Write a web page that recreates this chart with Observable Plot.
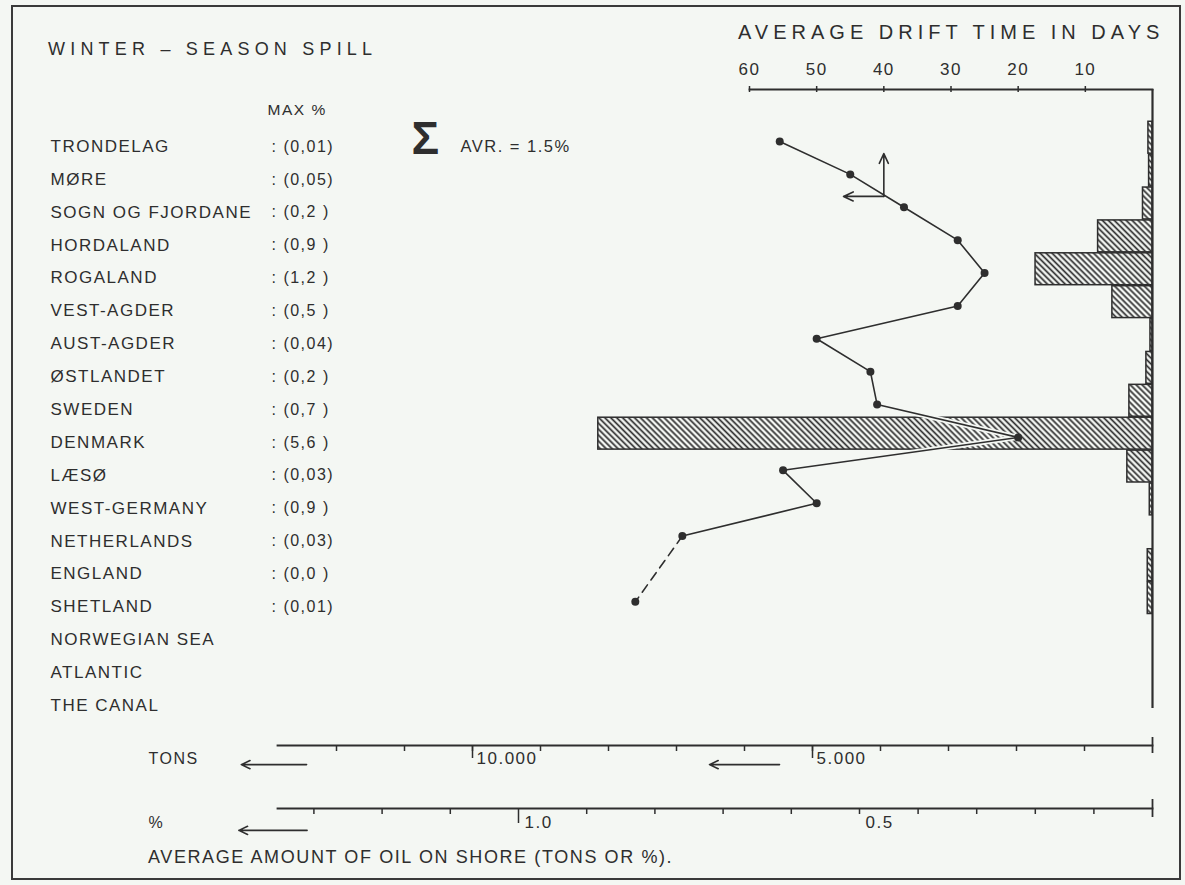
<!DOCTYPE html>
<html>
<head>
<meta charset="utf-8">
<script src="https://cdn.jsdelivr.net/npm/d3@7"></script>
<script src="https://cdn.jsdelivr.net/npm/@observablehq/plot@0.6"></script>
<style>
  html, body { margin: 0; padding: 0; background: #f4f7f3; }
  #chart { position: relative; width: 1185px; height: 885px; background: #f4f7f3;
           font-family: "Liberation Sans", Arial, sans-serif; color: #2e2e2e; overflow: hidden; }
  #chart svg text { letter-spacing: 1.5px; }
  .border { position: absolute; left: 11px; top: 5px; width: 1170px; height: 875px;
            border: 2px solid #3a3a3a; box-sizing: border-box; }
  .ttl { position: absolute; white-space: nowrap; line-height: 1; color: #2e2e2e; }
</style>
</head>
<body>
<div id="chart">
  <div class="border"></div>
  <div class="ttl" style="left:48px;top:40px;font-size:18px;letter-spacing:5.2px">WINTER – SEASON SPILL</div>
  <div class="ttl" style="left:738px;top:22px;font-size:20px;letter-spacing:5px">AVERAGE DRIFT TIME IN DAYS</div>
  <div class="ttl" style="left:148px;top:848px;font-size:18px;letter-spacing:1.6px">AVERAGE AMOUNT OF OIL ON SHORE (TONS OR %).</div>
</div>
<script>
// ---------------- data ----------------
const categories = [
  "TRONDELAG", "MØRE", "SOGN OG FJORDANE", "HORDALAND", "ROGALAND",
  "VEST-AGDER", "AUST-AGDER", "ØSTLANDET", "SWEDEN", "DENMARK",
  "LÆSØ", "WEST-GERMANY", "NETHERLANDS", "ENGLAND", "SHETLAND",
  "NORWEGIAN SEA", "ATLANTIC", "THE CANAL"
];
// maximum % (printed in brackets)
const maxPct = [0.01, 0.05, 0.2, 0.9, 1.2, 0.5, 0.04, 0.2, 0.7, 5.6, 0.03, 0.9, 0.03, 0.0, 0.01, null, null, null];
// average amount of oil on shore, tons (hatched bars)
const avgTons = [60, 50, 140, 800, 1720, 590, 30, 90, 340, 8150, 370, 40, 0, 70, 70, 0, 0, 0];
// average drift time, days (line)
const driftDays = [55.5, 45, 37, 29, 25, 29, 50, 42, 41, 20, 55, 50, 70, null, 77, null, null, null];
const dashedFrom = "NETHERLANDS";

const driftTicks = [60, 50, 40, 30, 20, 10];
const tonsTicks = [1000, 2000, 3000, 4000, 5000, 6000, 7000, 8000, 9000, 10000, 11000, 12000];
const tonsMajor = [5000, 10000];
const pctTicks = [0.1, 0.2, 0.3, 0.4, 0.5, 0.6, 0.7, 0.8, 0.9, 1.1, 1.2, 1.3];
const pctMajor = [1.0];
const pctLabels = [1.0, 0.5];
// spread indicator arrows near MØRE (days, row index)
const spreadArrows = [
  {x1: 40, y1: 1.67, x2: 40, y2: 0.37},
  {x1: 40, y1: 1.67, x2: 46, y2: 1.67}
];
// direction arrows on the bottom scales
const tonsArrows = [{x1: 12440, x2: 13400}, {x1: 5485, x2: 6515}];
const pctArrows = [{x1: 1.31, x2: 1.41}];

// ---------------- setup ----------------
const INK = "#2e2e2e";
const BG = "#f4f7f3";
const rows = categories.map((name, i) => ({name, row: i, max: maxPct[i], tons: avgTons[i], days: driftDays[i]}));
const cut = categories.indexOf(dashedFrom);
const solid = rows.filter(d => d.days != null && d.row <= cut);
const dashed = rows.filter(d => d.days != null && d.row >= cut);
const points = rows.filter(d => d.days != null);

const tonsFmt = d3.formatLocale({decimal: ",", thousands: ".", grouping: [3], currency: ["", ""]}).format(",");
const maxFmt = v => ": (" + ((v > 0 && v < 0.1) ? v.toFixed(2) : v.toFixed(1) + "\u00a0").replace(".", ",") + ")";

const chart = document.getElementById("chart");

// hatch pattern
const defsSvg = d3.select(chart).append("svg").attr("width", 0).attr("height", 0)
  .style("position", "absolute").style("left", 0).style("top", 0);
const pat = defsSvg.append("defs").append("pattern")
  .attr("id", "hatch").attr("patternUnits", "userSpaceOnUse")
  .attr("width", 4.2).attr("height", 4.2).attr("patternTransform", "rotate(-45)");
pat.append("rect").attr("width", 4.2).attr("height", 4.2).attr("fill", BG);
pat.append("line").attr("x1", 2.1).attr("y1", -1).attr("x2", 2.1).attr("y2", 5.2)
  .attr("stroke", INK).attr("stroke-width", 1.7);

const common = {
  width: 1185, height: 885,
  style: {position: "absolute", left: "0px", top: "0px", background: "transparent",
          fontFamily: '"Liberation Sans", Arial, sans-serif', color: INK, overflow: "visible"}
};
const yRow = {domain: [0, 17], range: [141, 700], axis: null};

// ---------- layer: bars, labels, tons scale ----------
const layerBars = Plot.plot({
  ...common,
  marginLeft: 277, marginRight: 33, marginTop: 0, marginBottom: 140,
  x: {domain: [0, 10000], range: [1152, 472]},
  y: yRow,
  marks: [
    Plot.rect(rows.filter(d => d.tons > 0), {
      x1: 0, x2: "tons", y1: d => d.row - 0.6, y2: d => d.row + 0.37,
      fill: "url(#hatch)", stroke: INK, strokeWidth: 1.5
    }),
    Plot.text(rows, {frameAnchor: "left", y: "row", text: "name", dx: -227, dy: 5,
                     textAnchor: "start", fontSize: 17}),
    Plot.text(rows.filter(d => d.max != null), {frameAnchor: "left", y: "row", text: d => maxFmt(d.max),
                     dx: -6, dy: 5, textAnchor: "start", fontSize: 16}),
    Plot.text(["MAX %"], {frameAnchor: "top-left", dx: -10, dy: 103, textAnchor: "start", fontSize: 15.5}),
    Plot.text(["Σ"], {frameAnchor: "left", y: 0, dx: 134, dy: -2, textAnchor: "start",
                      fontSize: 46, fontWeight: "bold"}),
    Plot.text(["AVR. = 1.5%"], {frameAnchor: "left", y: 0, dx: 183, dy: 5, textAnchor: "start", fontSize: 16.5}),
    // tons scale
    Plot.frame({anchor: "bottom", strokeWidth: 1.8}),
    Plot.axisX({anchor: "bottom", ticks: tonsTicks, tickSize: 6, tickFormat: () => "", label: null, strokeWidth: 1.5}),
    Plot.axisX({anchor: "bottom", ticks: tonsMajor, tickSize: 13, tickFormat: () => "", label: null, strokeWidth: 1.5}),
    Plot.axisX({anchor: "bottom", ticks: [0], tickSize: 16, dy: -8, tickFormat: () => "", label: null, strokeWidth: 1.8}),
    Plot.text(tonsMajor, {x: d => d, frameAnchor: "bottom", text: d => tonsFmt(d), dx: 4, dy: 18,
                          textAnchor: "start", fontSize: 17}),
    Plot.text(["TONS"], {frameAnchor: "bottom-left", dx: -129, dy: 18, textAnchor: "start", fontSize: 16}),
    Plot.arrow(tonsArrows, {x1: "x1", x2: "x2", y1: 18.95, y2: 18.95, stroke: INK, strokeWidth: 1.6,
                            headLength: 9, headAngle: 50})
  ]
});

// ---------- layer: percent scale ----------
const layerPct = Plot.plot({
  ...common,
  marginLeft: 277, marginRight: 33, marginTop: 0, marginBottom: 77,
  x: {type: "linear", domain: [0, 0.5, 1.0], range: [1152, 859, 518]},
  y: yRow,
  marks: [
    Plot.frame({anchor: "bottom", strokeWidth: 1.8}),
    Plot.axisX({anchor: "bottom", ticks: pctTicks, tickSize: 6, tickFormat: () => "", label: null, strokeWidth: 1.5}),
    Plot.axisX({anchor: "bottom", ticks: pctMajor, tickSize: 15, tickFormat: () => "", label: null, strokeWidth: 1.5}),
    Plot.axisX({anchor: "bottom", ticks: [0], tickSize: 18, dy: -9, tickFormat: () => "", label: null, strokeWidth: 1.8}),
    Plot.text(pctLabels, {x: d => d, frameAnchor: "bottom", text: d => d3.format(".1f")(d), dx: 6, dy: 19,
                          textAnchor: "start", fontSize: 17}),
    Plot.text(["%"], {frameAnchor: "bottom-left", dx: -129, dy: 19, textAnchor: "start", fontSize: 16}),
    Plot.arrow(pctArrows, {x1: "x1", x2: "x2", y1: 20.95, y2: 20.95, stroke: INK, strokeWidth: 1.6,
                           headLength: 9, headAngle: 50})
  ]
});

// ---------- layer: drift time ----------
const layerDrift = Plot.plot({
  ...common,
  marginLeft: 749, marginRight: 33, marginTop: 89, marginBottom: 177,
  x: {domain: [60, 0]},
  y: yRow,
  marks: [
    Plot.frame({anchor: "top", strokeWidth: 1.8}),
    Plot.ruleX([0], {strokeWidth: 2.2}),
    Plot.axisX({anchor: "top", ticks: driftTicks, tickSize: 6, dy: 2, tickFormat: () => "", label: null, strokeWidth: 1.5}),
    Plot.text(driftTicks, {x: d => d, frameAnchor: "top", dy: -27, text: d => String(d), fontSize: 17}),
    Plot.line(solid, {x: "days", y: "row", stroke: BG, strokeWidth: 5}),
    Plot.line(solid, {x: "days", y: "row", stroke: INK, strokeWidth: 1.6}),
    Plot.line(dashed, {x: "days", y: "row", stroke: INK, strokeWidth: 1.6, strokeDasharray: "9,6"}),
    Plot.dot(points, {x: "days", y: "row", r: 4, fill: INK}),
    Plot.arrow(spreadArrows, {x1: "x1", y1: "y1", x2: "x2", y2: "y2", stroke: INK, strokeWidth: 1.6,
                              headLength: 10, headAngle: 50})
  ]
});

chart.appendChild(layerBars);
chart.appendChild(layerPct);
chart.appendChild(layerDrift);
</script>
</body>
</html>
